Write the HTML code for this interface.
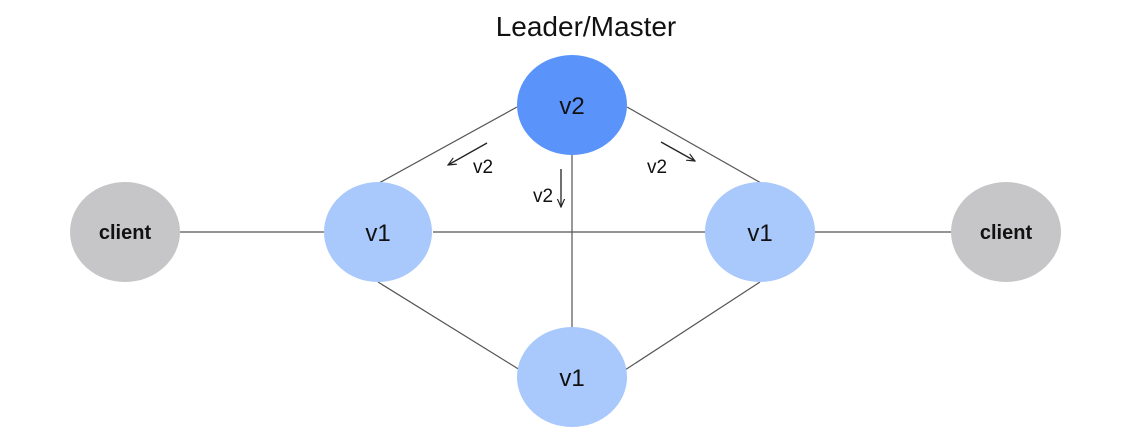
<!DOCTYPE html>
<html><head><style>
html,body{margin:0;padding:0;background:#fff;}
svg{display:block;font-family:"Liberation Sans","Noto Sans CJK SC",sans-serif;}
</style></head><body>
<svg width="1140" height="437" viewBox="0 0 1140 437">
<defs><marker id="a" viewBox="0 0 10 10" refX="9" refY="5" markerWidth="7" markerHeight="7" orient="auto"><path d="M0,1 L9,5 L0,9" fill="none" stroke="#222" stroke-width="1.3"/></marker></defs>
<g stroke="#555" stroke-width="1.2" fill="none">
<line x1="180" y1="232" x2="324" y2="232"/>
<line x1="433" y1="232" x2="706" y2="232"/>
<line x1="815" y1="232" x2="951" y2="232"/>
<line x1="572" y1="155" x2="572" y2="328"/>
<line x1="517" y1="107" x2="379" y2="183"/>
<line x1="627" y1="107" x2="761" y2="183"/>
<line x1="378" y1="282" x2="520" y2="370"/>
<line x1="760" y1="282" x2="625" y2="370"/>
</g>
<g stroke="#222" stroke-width="1.3">
<line x1="487" y1="143" x2="448" y2="165" marker-end="url(#a)"/>
<line x1="561" y1="169" x2="561" y2="207" marker-end="url(#a)"/>
<line x1="661" y1="142" x2="695" y2="161" marker-end="url(#a)"/>
</g>
<ellipse cx="572" cy="105" rx="55" ry="50" fill="#5a94fb"/>
<ellipse cx="378" cy="232" rx="54" ry="50" fill="#a9c8fc"/>
<ellipse cx="760" cy="232" rx="55" ry="50" fill="#a9c8fc"/>
<ellipse cx="572" cy="377" rx="55" ry="50" fill="#a9c8fc"/>
<ellipse cx="125" cy="232" rx="55" ry="50" fill="#c6c6c8"/>
<ellipse cx="1006" cy="232" rx="55" ry="50" fill="#c6c6c8"/>
<g fill="#111" text-anchor="middle">
<text x="586" y="36" font-size="28">Leader/Master</text>
<text x="572" y="114" font-size="24">v2</text>
<text x="378" y="241" font-size="24">v1</text>
<text x="760" y="241" font-size="24">v1</text>
<text x="572" y="386" font-size="24">v1</text>
<text x="125" y="239" font-size="20" font-weight="bold">client</text>
<text x="1006" y="239" font-size="20" font-weight="bold">client</text>
<text x="483" y="173" font-size="19">v2</text>
<text x="543" y="202" font-size="19">v2</text>
<text x="657" y="173" font-size="19">v2</text>
</g>
</svg>
</body></html>
